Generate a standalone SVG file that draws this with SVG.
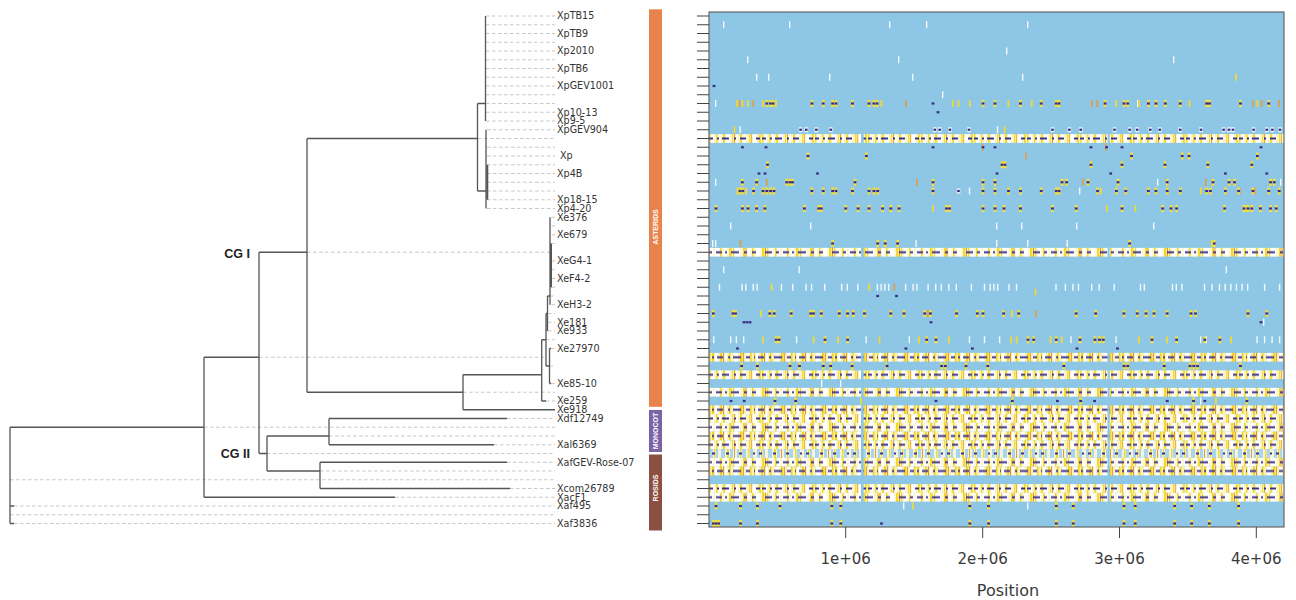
<svg xmlns="http://www.w3.org/2000/svg" xmlns:xlink="http://www.w3.org/1999/xlink" width="1296" height="600" viewBox="0 0 1296 600">
<style>
.br{fill:none;stroke:#555;stroke-width:1.3}
.bt{fill:none;stroke:#555;stroke-width:2}
.dl{fill:none;stroke:#c2c2c2;stroke-width:0.9;stroke-dasharray:3.5 2.5}
.lb{font-family:"DejaVu Sans",sans-serif;font-size:9.6px;fill:#333}
.cg{font-family:"Liberation Sans",Arial,sans-serif;font-size:12.5px;font-weight:bold;fill:#222}
.bar{font-family:"Liberation Sans",Arial,sans-serif;font-size:7px;font-weight:bold;fill:#fff}
.ax{font-family:"DejaVu Sans",sans-serif;font-size:15px;fill:#3a3a3a}
.tk{fill:none;stroke:#444;stroke-width:1}
</style>
<defs>
<pattern id="pA" patternUnits="userSpaceOnUse" x="709" y="11.625" width="53" height="8.75">
<rect width="53" height="8.75" fill="#fcf4c2"/>
<path fill="#fff" d="M2 0h3v8.75h-3z M10 0h2v8.75h-2z M17 0h4v8.75h-4z M27 0h2v8.75h-2z M34 0h3v8.75h-3z M44 0h4v8.75h-4z"/>
<path fill="#f4dc3a" d="M0 0h1.5v8.75H0z M7 0h1.5v8.75H7z M14 0h2v8.75h-2z M23 0h1.2v8.75h-1.2z M31 0h2v8.75h-2z M40 0h1.5v8.75h-1.5z M50 0h2v8.75h-2z"/>
<path fill="#eba03c" d="M25 0h1v8.75h-1z M42 0h0.8v8.75h-0.8z"/>
<path fill="#3c2f88" d="M0 3.4h4v2H0z M8 3.4h2v2H8z M13 3.4h7v2h-7z M25 3.4h2v2h-2z M31 3.4h6v2h-6z M47 3.4h4v2h-4z"/>
</pattern>
<pattern id="pB" patternUnits="userSpaceOnUse" x="715" y="11.625" width="67" height="8.75">
<rect width="67" height="8.75" fill="#fdf7d2"/>
<path fill="#fff" d="M0 0h4v8.75h-4z M9 0h3v8.75h-3z M20 0h5v8.75h-5z M33 0h2v8.75h-2z M41 0h4v8.75h-4z M55 0h3v8.75h-3z M62 0h3v8.75h-3z"/>
<path fill="#f2d830" d="M5 0h1.5v8.75H5z M14 0h2.5v8.75h-2.5z M18 0h1v8.75h-1z M28 0h2v8.75h-2z M37 0h1.5v8.75h-1.5z M47 0h2.5v8.75h-2.5z M52 0h1.2v8.75h-1.2z M60 0h1.5v8.75h-1.5z"/>
<path fill="#e8963a" d="M30.5 0h1v8.75h-1z M50 0h1v8.75h-1z"/>
<path fill="#3c2f88" d="M1 3.4h6v2H1z M10 3.4h2v2h-2z M16 3.4h8v2h-8z M29 3.4h3v2h-3z M37 3.4h4v2h-4z M50 3.4h7v2h-7z M61 3.4h3v2h-3z"/>
</pattern>
<pattern id="pC" patternUnits="userSpaceOnUse" x="712" y="11.625" width="41" height="8.75">
<rect width="41" height="8.75" fill="#fbf1b2"/>
<path fill="#fff" d="M3 0h3v8.75h-3z M13 0h2v8.75h-2z M22 0h4v8.75h-4z M34 0h3v8.75h-3z"/>
<path fill="#f0d42a" d="M0 0h2v8.75H0z M8 0h2v8.75H8z M17 0h1.5v8.75h-1.5z M28 0h2.5v8.75h-2.5z M38 0h1.5v8.75h-1.5z"/>
<path fill="#e48c34" d="M11 0h1v8.75h-1z M31 0h0.8v8.75h-0.8z"/>
<path fill="#3c2f88" d="M0 3.4h2v2H0z M5 3.4h6v2H5z M16 3.4h2v2h-2z M21 3.4h8v2h-8z M34 3.4h4v2h-4z"/>
</pattern>
<pattern id="pD" patternUnits="userSpaceOnUse" x="709" y="11.625" width="47" height="8.75">
<rect width="47" height="8.75" fill="#f6f3d6"/>
<path fill="#a9d5ee" d="M1 0h3v8.75H1z M7 0h2v8.75H7z M12 0h4v8.75h-4z M21 0h3v8.75h-3z M28 0h2v8.75h-2z M33 0h4v8.75h-4z M41 0h3v8.75h-3z"/>
<path fill="#f1d83a" d="M5 0h1.5v8.75H5z M18 0h2v8.75h-2z M31 0h1.2v8.75h-1.2z M39 0h1.5v8.75h-1.5z"/>
<path fill="#e39a3c" d="M25 0h1v8.75h-1z"/>
<path fill="#3c2f88" d="M3 3.4h3v2H3z M17 3.4h3v2h-3z M30 3.4h3v2h-3z M44 3.4h2v2h-2z"/>
</pattern>
<rect id="w" x="0" y="-3.5" width="1.4" height="7" fill="#f3f8fb"/>
<rect id="y" x="0" y="-3.5" width="1.8" height="7" fill="#efd83a"/>
<rect id="o" x="0" y="-3.5" width="1.6" height="7" fill="#e49a3e"/>
<rect id="d" x="-0.4" y="-1.1" width="2.8" height="2.2" fill="#3b2c85"/>
<g id="c"><rect x="-0.4" y="-3.5" width="2.8" height="7" fill="#f1de45"/><rect x="-0.4" y="-1.1" width="2.8" height="2.2" fill="#3b2c85"/></g>
<g id="k"><rect x="-0.8" y="-2.5" width="3.6" height="5" fill="#eef5f9"/><rect x="-0.3" y="-1.1" width="2.6" height="2.2" fill="#3b2c85"/></g>
</defs>
<rect width="1296" height="600" fill="#fff"/>

<g id="connectors">
<path class="dl" d="M486 16H555 M486 24.75H555 M486 33.5H555 M486 42.25H555 M486 51H555 M486 59.75H555 M486 68.5H555 M486 77.25H555 M486 86H555 M486 94.75H555 M486 103.5H555 M486 112.25H555 M486 121H555 M487 129.75H555 M478 138.5H555 M487 147.25H555 M487 156H555 M487 164.75H555 M487 173.5H555 M487 182.25H555 M487 191H555 M487 199.75H555 M487 208.5H555 M551.5 217.25H555 M551.5 226H555 M551.5 234.75H555 M551.5 243.5H555 M307 252.25H550 M551.5 261H555 M551.5 269.75H555 M551.5 278.5H555 M551.5 287.25H555 M550 296H555 M551.5 304.75H555 M548 313.5H555 M548 322.25H555 M548 331H555 M546 339.75H555 M551 348.5H555 M259 357.25H546 M549.5 366H555 M551 383.5H555 M463 392.25H555 M546 401H555 M507 418.5H555 M204 427.25H555 M329 436H555 M494 444.75H555 M267 453.5H555 M507 462.25H555 M320 471H555 M10 479.75H555 M510 488.5H555 M395 497.25H555 M14 506H555 M10 514.75H555 M14 523.5H555"/>
<path class="br" d="M10 427.25V523.5 M10 506H14 M10 523.5H14 M10 427.25H204 M204 357.25V497.25 M204 357.25H259 M204 497.25H395 M259 252.25V453.5 M259 252.25H307 M259 453.5H267 M307 138.5V392.25 M307 138.5H477.5 M307 392.25H463 M477.5 103.5V191 M477.5 103.5H485.5 M477.5 191H486 M485.5 16V121 M486 129.75V208.5 M463 374.75V409.75 M463 374.75H541.7 M463 409.75H555 M541.7 339.75V401 M541.7 339.75H546 M541.7 401H546 M546 313.5V366 M546 313.5H547.5 M546 366H549.5 M549.5 348.5V383.5 M549.5 348.5H551 M549.5 383.5H551 M547.5 296V331 M547.5 296H550 M550 217.25V304.75 M267 436V471 M267 436H329 M267 471H320 M329 418.5V444.75 M329 418.5H507 M329 444.75H494 M320 462.25V488.5 M320 462.25H507 M320 488.5H510"/>
<path class="bt" d="M487.3 164.75V199.75 M551 243.5V287.25"/>
</g>

<g id="clade-labels">
<text class="cg" x="250" y="257.5" text-anchor="end">CG I</text>
<text class="cg" x="250" y="458" text-anchor="end">CG II</text>
</g>

<g id="leaves">
<g id="leaf-XpTB15"><text class="lb" x="557" y="19.4">XpTB15</text></g>
<g id="leaf-XpTB9"><text class="lb" x="557" y="36.9">XpTB9</text></g>
<g id="leaf-Xp2010"><text class="lb" x="557" y="54.4">Xp2010</text></g>
<g id="leaf-XpTB6"><text class="lb" x="557" y="71.9">XpTB6</text></g>
<g id="leaf-XpGEV1001"><text class="lb" x="557" y="89.4">XpGEV1001</text></g>
<g id="leaf-Xp10-13"><text class="lb" x="557" y="115.65">Xp10-13</text></g>
<g id="leaf-Xp9-5"><text class="lb" x="557" y="124.4">Xp9-5</text></g>
<g id="leaf-XpGEV904"><text class="lb" x="557" y="133.15">XpGEV904</text></g>
<g id="leaf-Xp"><text class="lb" x="560" y="159.4">Xp</text></g>
<g id="leaf-Xp4B"><text class="lb" x="557" y="176.9">Xp4B</text></g>
<g id="leaf-Xp18-15"><text class="lb" x="557" y="203.15">Xp18-15</text></g>
<g id="leaf-Xp4-20"><text class="lb" x="557" y="211.9">Xp4-20</text></g>
<g id="leaf-Xe376"><text class="lb" x="557" y="220.65">Xe376</text></g>
<g id="leaf-Xe679"><text class="lb" x="557" y="238.15">Xe679</text></g>
<g id="leaf-XeG4-1"><text class="lb" x="557" y="264.4">XeG4-1</text></g>
<g id="leaf-XeF4-2"><text class="lb" x="557" y="281.9">XeF4-2</text></g>
<g id="leaf-XeH3-2"><text class="lb" x="557" y="308.15">XeH3-2</text></g>
<g id="leaf-Xe181"><text class="lb" x="557" y="325.65">Xe181</text></g>
<g id="leaf-Xe933"><text class="lb" x="557" y="334.4">Xe933</text></g>
<g id="leaf-Xe27970"><text class="lb" x="557" y="351.9">Xe27970</text></g>
<g id="leaf-Xe85-10"><text class="lb" x="557" y="386.9">Xe85-10</text></g>
<g id="leaf-Xe259"><text class="lb" x="557" y="404.4">Xe259</text></g>
<g id="leaf-Xe918"><text class="lb" x="557" y="413.15">Xe918</text></g>
<g id="leaf-Xdf12749"><text class="lb" x="557" y="421.9">Xdf12749</text></g>
<g id="leaf-Xal6369"><text class="lb" x="557" y="448.15">Xal6369</text></g>
<g id="leaf-XafGEV-Rose-07"><text class="lb" x="557" y="465.65">XafGEV-Rose-07</text></g>
<g id="leaf-Xcom26789"><text class="lb" x="557" y="491.9">Xcom26789</text></g>
<g id="leaf-XacF1"><text class="lb" x="557" y="500.65">XacF1</text></g>
<g id="leaf-Xaf495"><text class="lb" x="557" y="509.4">Xaf495</text></g>
<g id="leaf-Xaf3836"><text class="lb" x="557" y="526.9">Xaf3836</text></g>
</g>

<g id="group-bars">
<g id="bar-asterids"><rect x="649" y="9.3" width="13" height="397.5" fill="#e8834b"/><text class="bar" transform="translate(658,227) rotate(-90)" text-anchor="middle">ASTERIDS</text></g>
<g id="bar-monocot"><rect x="649" y="410" width="13" height="42" fill="#7a64a7"/><text class="bar" transform="translate(658,431) rotate(-90)" text-anchor="middle">MONOCOT</text></g>
<g id="bar-rosids"><rect x="649" y="454.5" width="13" height="76" fill="#8b5041"/><text class="bar" transform="translate(658,488) rotate(-90)" text-anchor="middle">ROSIDS</text></g>
</g>

<g id="heatmap">
<rect x="709" y="12" width="575" height="515" fill="#8dc7e5"/>
<rect x="709" y="134.125" width="575" height="8.75" fill="url(#pA)"/>
<rect x="709" y="247.875" width="575" height="8.75" fill="url(#pB)"/>
<rect x="709" y="352.875" width="575" height="8.75" fill="url(#pC)"/>
<rect x="709" y="370.375" width="575" height="8.75" fill="url(#pA)"/>
<rect x="709" y="387.875" width="575" height="8.75" fill="url(#pB)"/>
<rect x="709" y="405.375" width="575" height="8.75" fill="url(#pC)"/>
<rect x="709" y="414.125" width="575" height="8.75" fill="url(#pA)"/>
<rect x="709" y="422.875" width="575" height="8.75" fill="url(#pB)"/>
<rect x="709" y="431.625" width="575" height="8.75" fill="url(#pC)"/>
<rect x="709" y="440.375" width="575" height="8.75" fill="url(#pA)"/>
<rect x="709" y="449.125" width="575" height="8.75" fill="url(#pD)"/>
<rect x="709" y="457.875" width="575" height="8.75" fill="url(#pB)"/>
<rect x="709" y="466.625" width="575" height="8.75" fill="url(#pC)"/>
<rect x="709" y="484.125" width="575" height="8.75" fill="url(#pA)"/>
<rect x="709" y="492.875" width="575" height="8.75" fill="url(#pB)"/>
<rect x="861" y="12" width="2.6" height="515" fill="#8dc7e5"/>
<rect x="1107.5" y="12" width="2.2" height="515" fill="#8dc7e5"/>

<g transform="translate(0,24.75)"><use href="#w" x="723"/><use href="#w" x="789"/><use href="#w" x="889"/><use href="#w" x="926"/><use href="#w" x="1027"/></g>
<g transform="translate(0,51)"><use href="#w" x="1006"/></g>
<g transform="translate(0,59.75)"><use href="#w" x="747"/><use href="#w" x="898"/><use href="#w" x="1173"/></g>
<g transform="translate(0,77.25)"><use href="#w" x="756"/><use href="#w" x="768"/><use href="#w" x="829"/><use href="#w" x="912"/><use href="#w" x="1022"/><use href="#y" x="1235"/></g>
<g transform="translate(0,86)"><use href="#d" x="713"/></g>
<g transform="translate(0,94.75)"><use href="#w" x="942"/></g>
<g transform="translate(0,103.5)"><use href="#w" x="715"/><use href="#w" x="1137"/><use href="#y" x="736.5"/><use href="#y" x="741.4"/><use href="#y" x="747"/><use href="#y" x="762"/><use href="#y" x="775.2"/><use href="#y" x="880.5"/><use href="#y" x="951.9"/><use href="#y" x="957.5"/><use href="#y" x="968.8"/><use href="#y" x="1007.5"/><use href="#y" x="1030.8"/><use href="#y" x="1115.4"/><use href="#y" x="1138"/><use href="#y" x="1188.7"/><use href="#y" x="1256.4"/><use href="#o" x="738.7"/><use href="#o" x="752.6"/><use href="#o" x="904.9"/><use href="#o" x="1091"/><use href="#o" x="1096.6"/><use href="#o" x="1251.9"/><use href="#o" x="1260.9"/><use href="#o" x="1278.2"/><use href="#c" x="765.8"/><use href="#c" x="769.5"/><use href="#c" x="772"/><use href="#c" x="810.9"/><use href="#c" x="822.2"/><use href="#c" x="831.6"/><use href="#c" x="835"/><use href="#c" x="851.5"/><use href="#c" x="868"/><use href="#c" x="872.9"/><use href="#c" x="876"/><use href="#c" x="982"/><use href="#c" x="994"/><use href="#c" x="1019.5"/><use href="#c" x="1040.2"/><use href="#c" x="1055.3"/><use href="#c" x="1058"/><use href="#c" x="1104.1"/><use href="#c" x="1122.9"/><use href="#c" x="1126.7"/><use href="#c" x="1147.4"/><use href="#c" x="1154.9"/><use href="#c" x="1164.3"/><use href="#c" x="1179.3"/><use href="#c" x="1205.6"/><use href="#c" x="1208.5"/><use href="#c" x="1239.5"/><use href="#c" x="1267.7"/><use href="#d" x="932"/></g>
<g transform="translate(0,112.25)"><use href="#d" x="937"/></g>
<g transform="translate(0,129.75)"><use href="#w" x="739.5"/><use href="#y" x="733.6"/><use href="#w" x="996.8"/><use href="#y" x="1003.8"/><use href="#k" x="799.6"/><use href="#k" x="805.3"/><use href="#k" x="815.4"/><use href="#k" x="829.7"/><use href="#k" x="933.8"/><use href="#k" x="938.7"/><use href="#k" x="948.9"/><use href="#k" x="968"/><use href="#k" x="1051.5"/><use href="#k" x="1068.4"/><use href="#k" x="1079.7"/><use href="#k" x="1113.5"/><use href="#k" x="1128.6"/><use href="#k" x="1136.2"/><use href="#k" x="1149.3"/><use href="#k" x="1158.7"/><use href="#k" x="1179.3"/><use href="#k" x="1200"/><use href="#k" x="1222.6"/><use href="#k" x="1228"/><use href="#k" x="1232"/><use href="#k" x="1252.6"/><use href="#k" x="1265.8"/><use href="#k" x="1271.4"/><use href="#k" x="1279"/></g>
<g transform="translate(0,147.25)"><use href="#o" x="982"/><use href="#o" x="1105"/><use href="#d" x="741.4"/><use href="#d" x="765"/><use href="#d" x="932"/><use href="#d" x="982"/><use href="#d" x="994"/><use href="#d" x="1090"/><use href="#d" x="1105.6"/><use href="#d" x="1121"/><use href="#d" x="1260"/></g>
<g transform="translate(0,156)"><use href="#o" x="1025"/><use href="#c" x="807"/><use href="#c" x="865.4"/><use href="#c" x="1130.5"/><use href="#c" x="1181.2"/><use href="#c" x="1188"/><use href="#c" x="1256.4"/></g>
<g transform="translate(0,164.75)"><use href="#o" x="1002"/><use href="#c" x="766.5"/><use href="#c" x="1001"/><use href="#c" x="1004"/><use href="#c" x="1090"/><use href="#c" x="1121"/><use href="#c" x="1164"/><use href="#c" x="1206.8"/><use href="#c" x="1250.8"/></g>
<g transform="translate(0,173.5)"><use href="#d" x="758"/><use href="#d" x="764"/><use href="#d" x="816.5"/><use href="#d" x="996"/><use href="#d" x="1109.7"/><use href="#d" x="1224.4"/><use href="#d" x="1265.8"/></g>
<g transform="translate(0,182.25)"><use href="#w" x="715"/><use href="#w" x="1157"/><use href="#w" x="1280"/><use href="#o" x="765.8"/><use href="#o" x="916.2"/><use href="#o" x="1082"/><use href="#o" x="1205"/><use href="#c" x="741.4"/><use href="#c" x="755.6"/><use href="#c" x="785.7"/><use href="#c" x="789"/><use href="#c" x="791.5"/><use href="#c" x="854"/><use href="#c" x="932"/><use href="#c" x="982"/><use href="#c" x="994"/><use href="#c" x="1061"/><use href="#c" x="1065.6"/><use href="#c" x="1087"/><use href="#c" x="1117"/><use href="#c" x="1166.2"/><use href="#c" x="1212"/><use href="#c" x="1228"/><use href="#c" x="1233.5"/><use href="#c" x="1269.5"/><use href="#c" x="1273.3"/></g>
<g transform="translate(0,191)"><use href="#w" x="968.8"/><use href="#w" x="1020"/><use href="#w" x="1079"/><use href="#y" x="736.5"/><use href="#y" x="745.1"/><use href="#y" x="1100"/><use href="#y" x="1200"/><use href="#o" x="1239"/><use href="#o" x="1254"/><use href="#c" x="739"/><use href="#c" x="741.8"/><use href="#c" x="752.6"/><use href="#c" x="762"/><use href="#c" x="765.8"/><use href="#c" x="769.5"/><use href="#c" x="773"/><use href="#c" x="810.9"/><use href="#c" x="822.2"/><use href="#c" x="831.6"/><use href="#c" x="835"/><use href="#c" x="851.5"/><use href="#c" x="868"/><use href="#c" x="872.9"/><use href="#c" x="876.7"/><use href="#c" x="932"/><use href="#k" x="957.5"/><use href="#c" x="982"/><use href="#c" x="994"/><use href="#c" x="1007.5"/><use href="#c" x="1019.5"/><use href="#c" x="1040.2"/><use href="#c" x="1055.3"/><use href="#c" x="1058"/><use href="#c" x="1096.6"/><use href="#c" x="1115.4"/><use href="#c" x="1124.8"/><use href="#c" x="1147.4"/><use href="#c" x="1154.9"/><use href="#c" x="1166.2"/><use href="#c" x="1179.3"/><use href="#c" x="1205.6"/><use href="#c" x="1209.4"/><use href="#c" x="1224.4"/><use href="#c" x="1237.6"/><use href="#c" x="1251.9"/><use href="#c" x="1267.7"/><use href="#c" x="1278.2"/></g>
<g transform="translate(0,208.5)"><use href="#y" x="932"/><use href="#y" x="1106"/><use href="#y" x="1134.5"/><use href="#y" x="1245"/><use href="#c" x="715"/><use href="#c" x="741.4"/><use href="#c" x="747"/><use href="#c" x="755.6"/><use href="#c" x="763.9"/><use href="#c" x="803.4"/><use href="#c" x="817.7"/><use href="#c" x="820.3"/><use href="#c" x="844.7"/><use href="#c" x="857.1"/><use href="#c" x="868"/><use href="#c" x="881.6"/><use href="#c" x="889.8"/><use href="#c" x="898.1"/><use href="#c" x="945.5"/><use href="#c" x="948.5"/><use href="#c" x="982"/><use href="#c" x="994"/><use href="#c" x="1003"/><use href="#c" x="1019.5"/><use href="#c" x="1051.5"/><use href="#c" x="1075.2"/><use href="#c" x="1121"/><use href="#c" x="1161.7"/><use href="#c" x="1170"/><use href="#c" x="1175.6"/><use href="#c" x="1223.7"/><use href="#c" x="1243"/><use href="#c" x="1247"/><use href="#c" x="1250.8"/><use href="#c" x="1259.4"/><use href="#c" x="1269.5"/><use href="#c" x="1275.2"/></g>
<g transform="translate(0,226)"><use href="#w" x="730"/><use href="#w" x="810"/><use href="#w" x="996"/><use href="#w" x="1021"/><use href="#w" x="1076"/><use href="#w" x="1153"/></g>
<g transform="translate(0,243.5)"><use href="#w" x="712"/><use href="#w" x="715"/><use href="#o" x="739.5"/><use href="#c" x="831.6"/><use href="#c" x="876.7"/><use href="#c" x="884.2"/><use href="#c" x="896.6"/><use href="#w" x="915.4"/><use href="#w" x="996"/><use href="#w" x="1027"/><use href="#w" x="1066.5"/><use href="#c" x="1128.6"/><use href="#c" x="1213.2"/><use href="#y" x="1211"/></g>
<g transform="translate(0,269.75)"><use href="#w" x="723"/><use href="#w" x="798.5"/><use href="#w" x="1225.6"/></g>
<g transform="translate(0,287.25)"><use href="#w" x="718.8"/><use href="#w" x="741.4"/><use href="#w" x="745.1"/><use href="#w" x="752.6"/><use href="#w" x="756.4"/><use href="#w" x="780.8"/><use href="#w" x="792.1"/><use href="#w" x="805.3"/><use href="#w" x="810.9"/><use href="#w" x="824.1"/><use href="#w" x="841"/><use href="#w" x="846.6"/><use href="#w" x="857.1"/><use href="#w" x="876.7"/><use href="#w" x="880.5"/><use href="#w" x="884.2"/><use href="#w" x="888"/><use href="#w" x="904.9"/><use href="#w" x="912.4"/><use href="#w" x="916.2"/><use href="#w" x="927.4"/><use href="#w" x="935"/><use href="#w" x="940.6"/><use href="#w" x="948.1"/><use href="#w" x="955.6"/><use href="#w" x="970.7"/><use href="#w" x="983.8"/><use href="#w" x="989.5"/><use href="#w" x="993.2"/><use href="#w" x="997"/><use href="#w" x="1008.3"/><use href="#w" x="1015.8"/><use href="#w" x="1055.3"/><use href="#w" x="1064.7"/><use href="#w" x="1072.2"/><use href="#w" x="1077.8"/><use href="#w" x="1091"/><use href="#w" x="1098.5"/><use href="#w" x="1113.5"/><use href="#w" x="1139.8"/><use href="#w" x="1143.6"/><use href="#w" x="1171.8"/><use href="#w" x="1175.6"/><use href="#w" x="1181.2"/><use href="#w" x="1203.8"/><use href="#w" x="1211.3"/><use href="#w" x="1218.8"/><use href="#w" x="1224.4"/><use href="#w" x="1230.1"/><use href="#w" x="1235.7"/><use href="#w" x="1241.4"/><use href="#w" x="1247"/><use href="#w" x="1263.9"/><use href="#w" x="1278.9"/><use href="#y" x="770.7"/><use href="#y" x="868.4"/><use href="#y" x="1034.6" y="5"/><use href="#o" x="893.6"/></g>
<g transform="translate(0,296)"><use href="#d" x="876.7"/><use href="#d" x="895.5"/></g>
<g transform="translate(0,313.5)"><use href="#y" x="760"/><use href="#y" x="1011"/><use href="#o" x="927"/><use href="#o" x="1035"/><use href="#c" x="712.4"/><use href="#c" x="732"/><use href="#c" x="734.5"/><use href="#c" x="768.8"/><use href="#c" x="773.3"/><use href="#c" x="790.2"/><use href="#c" x="809.8"/><use href="#c" x="812.5"/><use href="#c" x="820.3"/><use href="#c" x="838.3"/><use href="#c" x="846.6"/><use href="#c" x="852.3"/><use href="#c" x="863.5"/><use href="#c" x="889.8"/><use href="#c" x="903"/><use href="#c" x="923.7"/><use href="#c" x="929.4"/><use href="#c" x="955.6"/><use href="#c" x="976.3"/><use href="#c" x="982"/><use href="#c" x="1002.6"/><use href="#c" x="1017.7"/><use href="#c" x="1075.2"/><use href="#c" x="1094.7"/><use href="#c" x="1122.9"/><use href="#c" x="1136.2"/><use href="#c" x="1145"/><use href="#c" x="1153"/><use href="#c" x="1166.2"/><use href="#c" x="1190"/><use href="#c" x="1194.5"/><use href="#c" x="1247"/><use href="#c" x="1265.8"/></g>
<g transform="translate(0,322.25)"><use href="#d" x="743"/><use href="#d" x="746"/><use href="#d" x="749"/><use href="#d" x="930"/><use href="#d" x="1260"/><use href="#w" x="1263"/></g>
<g transform="translate(0,339.75)"><use href="#w" x="713"/><use href="#w" x="730"/><use href="#w" x="735.7"/><use href="#w" x="743"/><use href="#w" x="795.9"/><use href="#w" x="865.4"/><use href="#w" x="908.6"/><use href="#w" x="968.8"/><use href="#w" x="983.8"/><use href="#w" x="998.9"/><use href="#w" x="1070.3"/><use href="#w" x="1115.4"/><use href="#w" x="1200"/><use href="#w" x="1205.6"/><use href="#w" x="1256.4"/><use href="#w" x="1263.9"/><use href="#w" x="1271.4"/><use href="#w" x="1278.9"/><use href="#y" x="762"/><use href="#y" x="812.8"/><use href="#y" x="837.2"/><use href="#y" x="878.6"/><use href="#y" x="918"/><use href="#y" x="948.1"/><use href="#y" x="1010.2"/><use href="#y" x="1015.8"/><use href="#y" x="1049.6"/><use href="#y" x="1060.9"/><use href="#y" x="1138"/><use href="#y" x="1166.2"/><use href="#y" x="1230.1"/><use href="#c" x="775.2"/><use href="#c" x="778"/><use href="#c" x="824"/><use href="#c" x="846.6"/><use href="#c" x="925.6"/><use href="#c" x="935"/><use href="#c" x="1027"/><use href="#c" x="1032.7"/><use href="#c" x="1055.3"/><use href="#c" x="1079"/><use href="#c" x="1094"/><use href="#c" x="1098.5"/><use href="#c" x="1102.3"/><use href="#c" x="1151"/><use href="#c" x="1175.6"/><use href="#c" x="1203.8"/><use href="#c" x="1218.8"/></g>
<g transform="translate(0,348.5)"><use href="#d" x="736.5"/><use href="#d" x="904.9"/><use href="#d" x="971.4"/><use href="#d" x="1076"/><use href="#d" x="1116.5"/></g>
<g transform="translate(0,366)"><use href="#y" x="885"/><use href="#y" x="1193"/><use href="#c" x="740.6"/><use href="#c" x="756.4"/><use href="#c" x="789"/><use href="#c" x="798.5"/><use href="#c" x="822.2"/><use href="#c" x="829.7"/><use href="#c" x="851.1"/><use href="#d" x="886"/><use href="#c" x="940.6"/><use href="#c" x="944.4"/><use href="#c" x="965"/><use href="#c" x="986.8"/><use href="#c" x="1062.8"/><use href="#c" x="1123"/><use href="#c" x="1126.7"/><use href="#c" x="1163.2"/><use href="#c" x="1189"/><use href="#c" x="1192.8"/><use href="#c" x="1196.5"/><use href="#c" x="1239.5"/></g>
<g transform="translate(0,383.5)"><use href="#w" x="821"/><use href="#w" x="840"/></g>
<g transform="translate(0,401)"><use href="#w" x="1200"/><use href="#y" x="1215"/><use href="#y" x="860"/><use href="#d" x="730"/><use href="#d" x="743.2"/><use href="#c" x="774"/><use href="#c" x="794.7"/><use href="#d" x="935"/><use href="#c" x="1011.3"/><use href="#d" x="1056.4"/><use href="#c" x="1079.7"/><use href="#d" x="1093.6"/><use href="#d" x="1166.2"/><use href="#c" x="1192.5"/><use href="#d" x="1203.8"/><use href="#c" x="1245.9"/></g>
<g transform="translate(0,506)"><use href="#w" x="903"/><use href="#w" x="1027"/><use href="#y" x="912"/><use href="#c" x="715"/><use href="#c" x="739.5"/><use href="#c" x="756.4"/><use href="#c" x="779"/><use href="#c" x="830.8"/><use href="#c" x="839.8"/><use href="#c" x="968.8"/><use href="#c" x="987.6"/><use href="#c" x="1055.3"/><use href="#c" x="1072.2"/><use href="#c" x="1123"/><use href="#c" x="1134.2"/><use href="#c" x="1173.7"/><use href="#c" x="1190.6"/><use href="#c" x="1208.3"/><use href="#c" x="1237.6"/></g>
<g transform="translate(0,523.5)"><use href="#c" x="712.4"/><use href="#c" x="715"/><use href="#c" x="717.6"/><use href="#c" x="739.5"/><use href="#c" x="756.4"/><use href="#c" x="830.8"/><use href="#c" x="839.8"/><use href="#d" x="880.5"/><use href="#c" x="968.8"/><use href="#c" x="987.6"/><use href="#c" x="1055.3"/><use href="#c" x="1072.2"/><use href="#c" x="1123"/><use href="#c" x="1134.2"/><use href="#c" x="1173.7"/><use href="#c" x="1190.6"/><use href="#c" x="1208.3"/><use href="#c" x="1237.6"/></g>

<rect x="709" y="12" width="575" height="515" fill="none" stroke="#666" stroke-width="1.2"/>
<path class="tk" d="M697 16H709 M697 24.75H709 M697 33.5H709 M697 42.25H709 M697 51H709 M697 59.75H709 M697 68.5H709 M697 77.25H709 M697 86H709 M697 94.75H709 M697 103.5H709 M697 112.25H709 M697 121H709 M697 129.75H709 M697 138.5H709 M697 147.25H709 M697 156H709 M697 164.75H709 M697 173.5H709 M697 182.25H709 M697 191H709 M697 199.75H709 M697 208.5H709 M697 217.25H709 M697 226H709 M697 234.75H709 M697 243.5H709 M697 252.25H709 M697 261H709 M697 269.75H709 M697 278.5H709 M697 287.25H709 M697 296H709 M697 304.75H709 M697 313.5H709 M697 322.25H709 M697 331H709 M697 339.75H709 M697 348.5H709 M697 357.25H709 M697 366H709 M697 374.75H709 M697 383.5H709 M697 392.25H709 M697 401H709 M697 409.75H709 M697 418.5H709 M697 427.25H709 M697 436H709 M697 444.75H709 M697 453.5H709 M697 462.25H709 M697 471H709 M697 479.75H709 M697 488.5H709 M697 497.25H709 M697 506H709 M697 514.75H709 M697 523.5H709"/>
</g>

<g id="x-axis">
<path class="tk" d="M845.7 527V538 M982.7 527V538 M1119.5 527V538 M1256.3 527V538"/>
<text class="ax" x="845.7" y="564" text-anchor="middle">1e+06</text>
<text class="ax" x="982.7" y="564" text-anchor="middle">2e+06</text>
<text class="ax" x="1119.5" y="564" text-anchor="middle">3e+06</text>
<text class="ax" x="1256.3" y="564" text-anchor="middle">4e+06</text>
<text class="ax" x="1008" y="596" text-anchor="middle" style="font-size:16px">Position</text>
</g>
</svg>
